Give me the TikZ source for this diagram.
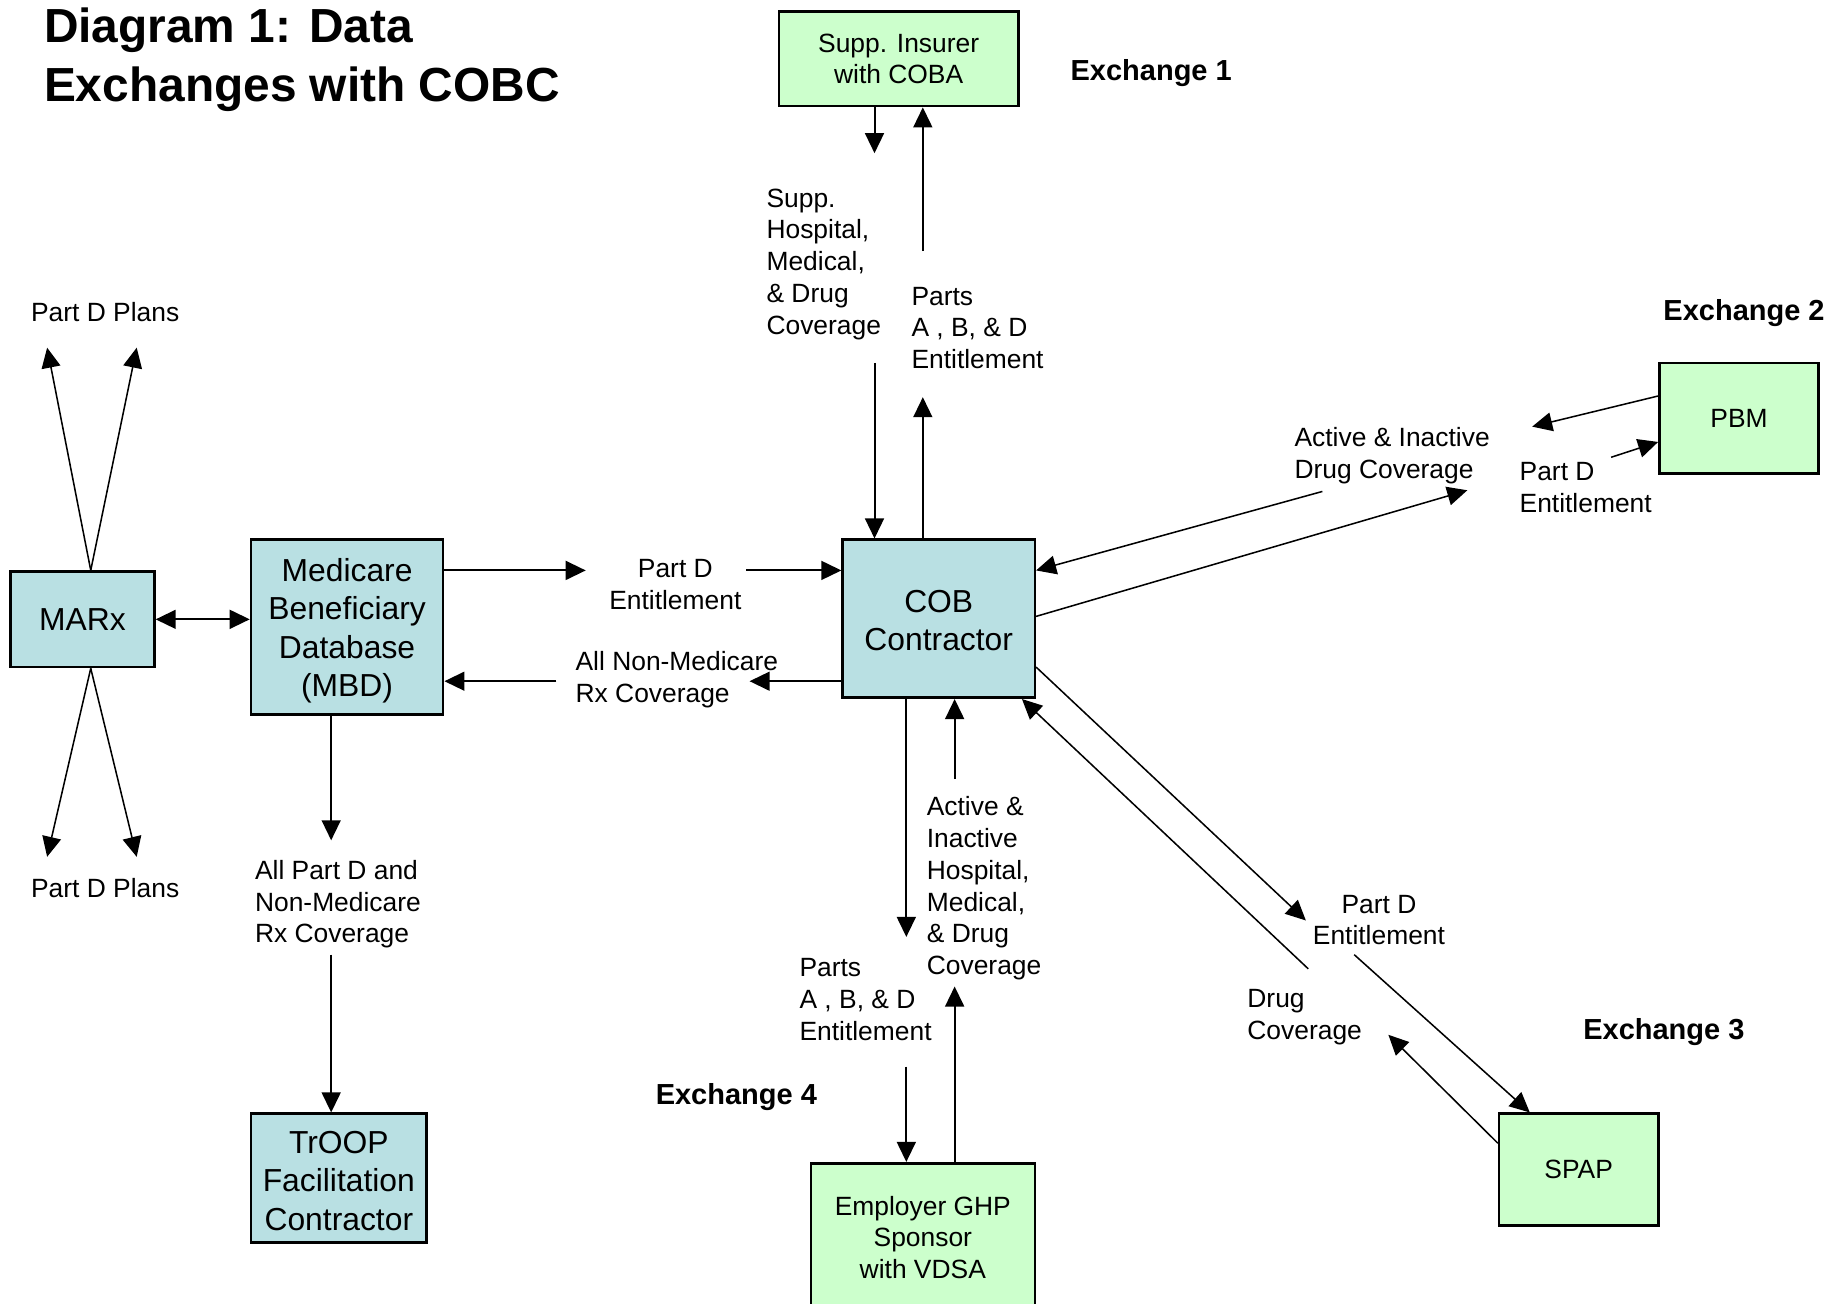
\documentclass[tikz,border=0pt]{standalone}
\usepackage{fontspec}
\setmainfont{Liberation Sans}
\usetikzlibrary{arrows.meta,positioning}
\definecolor{dbblue}{HTML}{B9E0E3}
\definecolor{partnergreen}{HTML}{CCFFCC}

\begin{document}
\begin{tikzpicture}[
	x=0.5pt, y=-0.5pt,
	bluebox/.style = {draw, line width=1.1pt, fill=dbblue, align=center, inner sep=0pt, font=\fontsize{13.5}{16.25}\selectfont},
	greenbox/.style = {draw, line width=1.1pt, fill=partnergreen, align=center, inner sep=0pt, font=\fontsize{11.2}{13.5}\selectfont},
	txt/.style = {anchor=west, align=left, inner sep=0pt, yshift=-1.1pt, font=\fontsize{11.2}{13.5}\selectfont},
	exlabel/.style = {anchor=west, inner sep=0pt, yshift=-1pt, font=\bfseries\fontsize{12.3}{14}\selectfont},
	arr/.style = {-{Triangle[length=8.5pt,width=8pt]}, line width=0.85pt},
	darr/.style = {{Triangle[length=8.5pt,width=8pt]}-{Triangle[length=8.5pt,width=8pt]}, line width=0.85pt},
	slant/.style = {arr, line width=0.65pt}
]
\useasboundingbox (0,0) rectangle (1568,1106);
\clip (0,0) rectangle (1568,1106);

\node (title) [anchor=west, align=left, inner sep=0pt, font=\bfseries\fontsize{20.3}{25}\selectfont] at (37,51) {Diagram 1: Data\\Exchanges with COBC};

\node (supp) [greenbox, minimum width=101.5pt, minimum height=40pt] at (762.5,50) {Supp. Insurer\\with COBA};
\node (cob) [bluebox, minimum width=81.5pt, minimum height=67pt] at (796.5,525) {\rule{0pt}{11pt}COB\\Contractor};
\node (mbd) [bluebox, minimum width=81.5pt, minimum height=74pt] at (294.5,532) {\rule{0pt}{13pt}Medicare\\Beneficiary\\Database\\(MBD)};
\node (marx) [bluebox, minimum width=61pt, minimum height=40.5pt] at (70,525.5) {MARx};
\node (troop) [bluebox, minimum width=74.5pt, minimum height=54.5pt] at (287.5,999.5) {\rule{0pt}{12pt}TrOOP\\Facilitation\\Contractor};
\node (pbm) [greenbox, minimum width=67.5pt, minimum height=47pt] at (1475.5,355) {PBM};
\node (spap) [greenbox, minimum width=67.5pt, minimum height=47.5pt] at (1339.5,992.5) {SPAP};
\node (emp) [greenbox, minimum width=95pt, minimum height=63pt] at (783,1050) {Employer GHP\\Sponsor\\with VDSA};

\node (ex1) [exlabel] at (908,60) {Exchange 1};
\node (ex2) [exlabel] at (1411,264) {Exchange 2};
\node (ex3) [exlabel] at (1343,874) {Exchange 3};
\node (ex4) [exlabel] at (556,929) {Exchange 4};

\node (suppcov) [txt] at (650,222) {Supp.\\Hospital,\\Medical,\\\& Drug\\Coverage};
\node (suppent) [txt] at (773,276) {Parts\\A , B, \& D\\Entitlement};
\node (pbmcov) [txt] at (1098,384.5) {Active \& Inactive\\Drug Coverage};
\node (pbment) [txt] at (1289,411.5) {Part D\\Entitlement};
\node (mbdent) [txt, anchor=center, align=center] at (573,493.5) {Part D\\Entitlement};
\node (mbdcov) [txt] at (488,574.5) {All Non-Medicare\\Rx Coverage};
\node (plansup) [txt] at (26,263) {Part D Plans};
\node (plansdn) [txt] at (26,751) {Part D Plans};
\node (troopcov) [txt] at (216,765) {All Part D and\\Non-Medicare\\Rx Coverage};
\node (empcov) [txt] at (786,751.5) {Active \&\\Inactive\\Hospital,\\Medical,\\\& Drug\\Coverage};
\node (empent) [txt] at (678,846) {Parts\\A , B, \& D\\Entitlement};
\node (spapent) [txt, anchor=center, align=center] at (1170,778.5) {Part D\\Entitlement};
\node (spapcov) [txt] at (1058,860.5) {Drug\\Coverage};

\coordinate (s1) at (742,130);
\coordinate (s2) at (783,213);
\coordinate (s3) at (742,308);
\coordinate (s4) at (783,337);
\draw[arr] (supp.south -| s1) -- (s1);
\draw[arr] (s2) -- (supp.south -| s2);
\draw[arr] (s3) -- (cob.north -| s3);
\draw[arr] (cob.north -| s4) -- (s4);

\coordinate (p1) at (1300,362);
\coordinate (p2) at (1367,388);
\coordinate (p3) at (1122,417);
\coordinate (p4) at (1245,416);
\draw[slant] ([yshift=9.5pt]pbm.west) -- (p1);
\draw[slant] (p2) -- ([yshift=-10pt]pbm.west);
\draw[slant] (p3) -- ([yshift=20.5pt]cob.east);
\draw[slant] ([yshift=1pt]cob.east) -- (p4);

\coordinate (m1) at (497,484);
\coordinate (m2) at (633,484);
\coordinate (m3) at (636,578);
\coordinate (m4) at (472,578);
\draw[arr] (mbd.east |- m1) -- (m1);
\draw[arr] (m2) -- (cob.west |- m2);
\draw[arr] (cob.west |- m3) -- (m3);
\draw[arr] (m4) -- (mbd.east |- m4);
\draw[darr] (marx.east) -- (marx.east -| mbd.west);

\coordinate (u1) at (40,295);
\coordinate (u2) at (116,295);
\coordinate (d1) at (40,727);
\coordinate (d2) at (116,727);
\draw[slant] ([xshift=3.5pt]marx.north) -- (u1);
\draw[slant] ([xshift=3.5pt]marx.north) -- (u2);
\draw[slant] ([xshift=3.5pt]marx.south) -- (d1);
\draw[slant] ([xshift=3.5pt]marx.south) -- (d2);

\coordinate (t1) at (281,713);
\coordinate (t2) at (281,810);
\draw[arr] (mbd.south -| t1) -- (t1);
\draw[arr] (t2) -- (troop.north -| t2);

\coordinate (e1) at (769,795);
\coordinate (e2) at (810,661);
\coordinate (e3) at (810,837);
\coordinate (e4) at (769,905);
\draw[arr] (cob.south -| e1) -- (e1);
\draw[arr] (e2) -- (cob.south -| e2);
\draw[arr] (emp.north -| e3) -- (e3);
\draw[arr] (e4) -- (emp.north -| e4);

\coordinate (q1) at (1108,781);
\coordinate (q2) at (1149,810);
\coordinate (q3) at (1110,822);
\coordinate (q4) at (1178,878);
\draw[slant] ([yshift=-20.5pt]cob.east) -- (q1);
\draw[slant] (q2) -- ([xshift=-20.75pt]spap.north);
\draw[slant] (q3) -- ([xshift=-6pt]cob.south east);
\draw[slant] ([yshift=11.25pt]spap.west) -- (q4);
\end{tikzpicture}
\end{document}
